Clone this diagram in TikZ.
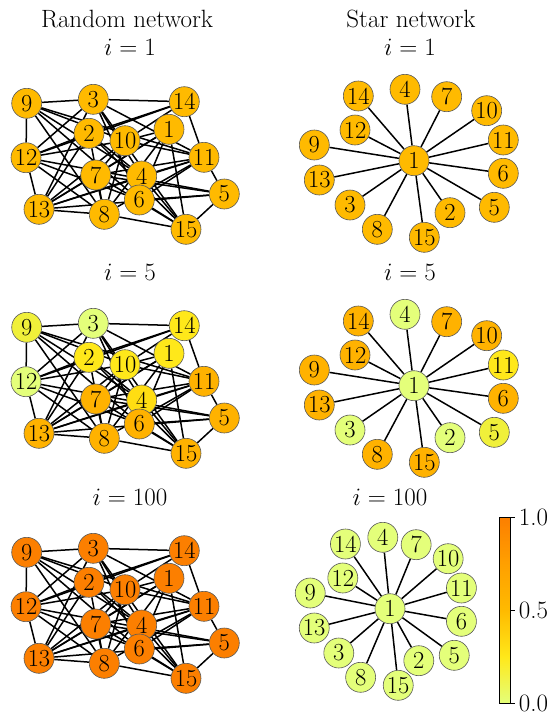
\RequirePackage{fix-cm}
\documentclass[tikz,border=0pt]{standalone}
\pgfdeclarelayer{bg}
\pgfsetlayers{bg,main}
\definecolor{cL}{HTML}{E4FF7A}
\definecolor{cG}{HTML}{F0F03A}
\definecolor{cY}{HTML}{FFE81A}
\definecolor{cY2}{HTML}{FFDD12}
\definecolor{cA}{HTML}{FFBA00}
\definecolor{cO}{HTML}{FFB200}
\definecolor{cM}{HTML}{FFA000}
\definecolor{cD}{HTML}{FC7F00}
\pgfdeclareverticalshading{wistia}{100bp}{color(0bp)=(cL); color(25bp)=(cL); color(37.5bp)=(cY); color(50bp)=(cA); color(62.5bp)=(cM); color(75bp)=(cD); color(100bp)=(cD)}
\tikzset{
  nd/.style={circle, draw=black!65, line width=0.6pt, minimum size=30pt, inner sep=0pt, font=\fontsize{24.5}{24.5}\selectfont},
  edge/.style={line width=1.5pt, black},
  ttl/.style={font=\fontsize{25}{30}\selectfont, inner sep=0pt, anchor=base},
  tk/.style={font=\fontsize{25}{30}\selectfont, inner sep=0pt, anchor=west},
}
\newcommand\setcol[3]{\expandafter\def\csname col#1-#2\endcsname{#3}}
\newcommand\RandPanel[3]{%
\begin{scope}[shift={(0,#2)}]
\foreach \n/\x/\y in {1/169/129.3, 2/89/133.3, 3/93.3/99.3, 4/141.7/176, 5/224.3/194, 6/139.3/200, 7/95.7/175, 8/104.3/214.3, 9/26.7/103.3, 10/125/140.7, 11/204/157.3, 12/26/157.7, 13/39/209.3, 14/184.3/101.7, 15/186/229.3}{%
  \ifcsname col#1-\n\endcsname\edef\thecol{\csname col#1-\n\endcsname}\else\def\thecol{#3}\fi
  \node[nd, fill=\thecol] (#1-\n) at (\x,\y) {\n};
}
\begin{pgfonlayer}{bg}
\foreach \a/\b in {9/3, 9/12, 9/10, 9/4, 9/6, 9/8, 9/11,
  3/14, 3/12, 3/13, 3/4, 3/15, 3/11, 3/6,
  12/13, 12/2, 12/14, 12/10, 12/8, 12/6, 12/5,
  13/2, 13/10, 13/1, 13/7, 13/4, 13/11, 13/8, 13/5,
  14/11, 14/2, 14/10,
  1/10, 1/15, 1/7, 1/6, 1/8,
  11/5, 11/10, 11/7, 11/4, 11/8, 11/6,
  5/15, 5/6, 5/7,
  15/8, 15/4, 15/6, 15/2, 15/7,
  8/7, 8/10, 8/2, 2/4, 7/10}{\draw[edge] (#1-\a) -- (#1-\b);}
\end{pgfonlayer}
\end{scope}}
\newcommand\StarPanel[3]{%
\begin{scope}[#2]
\foreach \n/\x/\y in {1/414/160.7, 2/450/212.7, 3/350/205, 4/405/89.3, 5/494.3/207.3, 6/503.3/173.3, 7/446.7/96.7, 8/377.3/229.3, 9/314.3/145, 10/486.7/110.7, 11/503.3/140, 12/355/130, 13/319.3/180, 14/358.3/96, 15/424.3/237.3}{%
  \ifcsname col#1-\n\endcsname\edef\thecol{\csname col#1-\n\endcsname}\else\def\thecol{#3}\fi
  \node[nd, fill=\thecol] (#1-\n) at (\x,\y) {\n};
}
\begin{pgfonlayer}{bg}
\foreach \b in {2,...,15}{\draw[edge] (#1-1) -- (#1-\b);}
\end{pgfonlayer}
\end{scope}}
\begin{document}
\begin{tikzpicture}[x=1pt, y=-1pt]
\useasboundingbox (0,0) rectangle (560,713);
% titles
\node[ttl] (h1) at (127,27) {Random network};
\node[ttl] (h2) at (411,27) {Star network};
\node[ttl] (a1) at (130,55) {$i=1$};
\node[ttl] (b1) at (410,55) {$i=1$};
\node[ttl] (a5) at (130,280) {$i=5$};
\node[ttl] (b5) at (410,280) {$i=5$};
\node[ttl] (a100) at (130,505) {$i=100$};
\node[ttl] (b100) at (390,505) {$i=100$};
% colours for i=5
\setcol{r5}{9}{cG}\setcol{r5}{3}{cL}\setcol{r5}{12}{cL}
\setcol{r5}{14}{cY}\setcol{r5}{2}{cY}\setcol{r5}{10}{cY}\setcol{r5}{1}{cY}\setcol{r5}{4}{cY2}
\setcol{s5}{1}{cL}\setcol{s5}{4}{cL}\setcol{s5}{3}{cL}\setcol{s5}{2}{cL}\setcol{s5}{5}{cG}\setcol{s5}{11}{cY}
% panels
\RandPanel{r1}{0}{cA}
\RandPanel{r5}{224}{cO}
\RandPanel{r100}{449}{cD}
\StarPanel{s1}{}{cA}
\StarPanel{s5}{shift={(0,225)}}{cO}
\StarPanel{s100}{shift={(58.8,448)},xscale=0.8}{cL}
% colour bar
\node[draw, line width=0.6pt, minimum width=11pt, minimum height=186pt, inner sep=0pt, shading=wistia, anchor=north west] (cbar) at (499,517) {};
\draw[line width=0.6pt] (cbar.north east) -- ++(4,0);
\draw[line width=0.6pt] (cbar.east) -- ++(4,0);
\draw[line width=0.6pt] (cbar.south east) -- ++(4,0);
\path (cbar.north east) ++(8,0) node[tk] (l1) {1.0};
\path (cbar.east) ++(8,0) node[tk] (l2) {0.5};
\path (cbar.south east) ++(8,0) node[tk] (l3) {0.0};
\end{tikzpicture}
\end{document}
